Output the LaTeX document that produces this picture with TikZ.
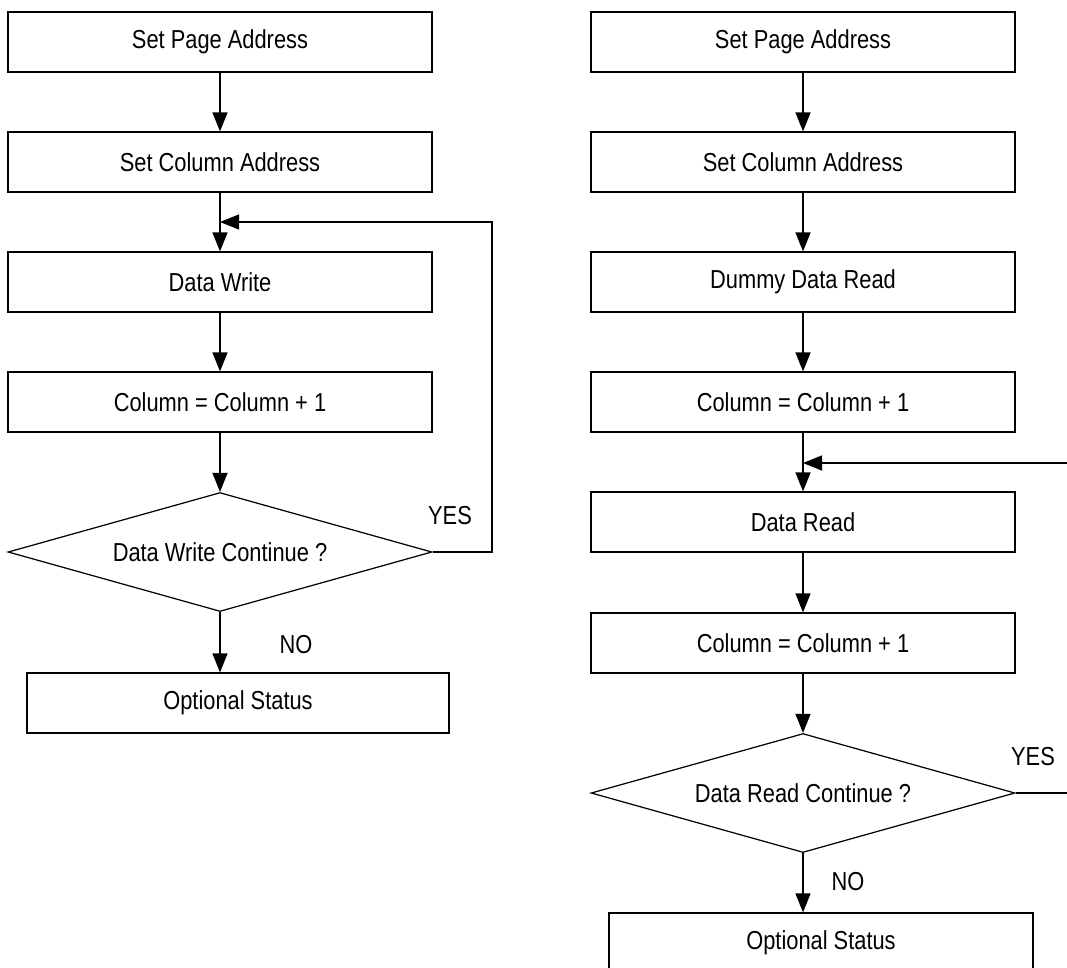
\documentclass[tikz,border=0pt]{standalone}
\usepackage{fontspec}
\setmainfont{Liberation Sans}[FakeStretch=0.84]
\usetikzlibrary{shapes.geometric,arrows.meta}
\tikzset{
	etape/.style={draw,line width=0.7pt,minimum width=8.48cm,minimum height=1.2cm,inner sep=0pt},
	choix/.style={draw,diamond,aspect=3.56,line width=0.7pt,minimum width=8.48cm,minimum height=2.38cm,inner sep=0pt},
	fleche/.style={line width=0.7pt,-{Triangle[length=0.38cm,width=0.3cm]}},
	reponse/.style={inner sep=0pt}
}

\begin{document}
\begin{tikzpicture}[x=0.02cm,y=-0.02cm,font=\fontsize{14.8}{17}\selectfont]
	\clip (0,0) rectangle (1067,967);
	% Ecriture %
	\node[etape] (lpage) at (220,42) {Set Page Address};
	\node[etape] (lcol) at (220,162) {Set Column Address};
	\node[etape] (lwrite) at (220,282) {Data Write};
	\node[etape] (linc) at (220,402) {Column = Column + 1};
	\node[choix] (ldec) at (220,552) {Data Write Continue ?};
	\node[etape,minimum width=8.44cm] (lstat) at (238,703) {Optional Status};
	\node[reponse] (lyes) at (450,516) {YES};
	\node[reponse] (lno) at (296,645) {NO};
	\coordinate (ljoin) at (220,222);
	\coordinate (lcoin) at (492,222);
	\draw[fleche] (lpage) -- (lcol);
	\draw[fleche] (lcol) -- (lwrite);
	\draw[fleche] (lwrite) -- (linc);
	\draw[fleche] (linc) -- (ldec);
	\draw[fleche] (ldec.south) -- (ldec.south |- lstat.north);
	\draw[fleche] (ldec.east) -| (lcoin) -- (ljoin);
	% Lecture %
	\node[etape] (rpage) at (803,42) {Set Page Address};
	\node[etape] (rcol) at (803,162) {Set Column Address};
	\node[etape] (rdummy) at (803,282) {Dummy Data Read};
	\node[etape] (rinc) at (803,402) {Column = Column + 1};
	\node[etape] (rread) at (803,522) {Data Read};
	\node[etape] (rinc2) at (803,643) {Column = Column + 1};
	\node[choix] (rdec) at (803,793) {Data Read Continue ?};
	\node[etape] (rstat) at (821,943) {Optional Status};
	\node[reponse] (ryes) at (1033,757) {YES};
	\node[reponse] (rno) at (848,882) {NO};
	\coordinate (rjoin) at (803,463);
	\coordinate (rcoin) at (1080,463);
	\draw[fleche] (rpage) -- (rcol);
	\draw[fleche] (rcol) -- (rdummy);
	\draw[fleche] (rdummy) -- (rinc);
	\draw[fleche] (rinc) -- (rread);
	\draw[fleche] (rread) -- (rinc2);
	\draw[fleche] (rinc2) -- (rdec);
	\draw[fleche] (rdec.south) -- (rdec.south |- rstat.north);
	\draw[fleche] (rdec.east) -| (rcoin) -- (rjoin);
\end{tikzpicture}
\end{document}
